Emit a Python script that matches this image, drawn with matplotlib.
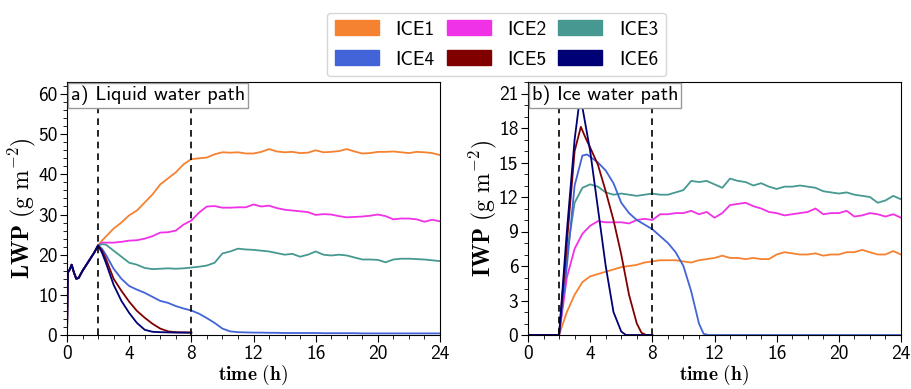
import matplotlib
matplotlib.use("Agg")
import matplotlib.pyplot as plt
import matplotlib.patches as mpatches
from matplotlib.ticker import MultipleLocator

plt.rcParams['font.family'] = ['cmss10', 'DejaVu Sans']
plt.rcParams['mathtext.fontset'] = 'cm'
plt.rcParams['axes.unicode_minus'] = False

names = ['ICE1', 'ICE2', 'ICE3', 'ICE4', 'ICE5', 'ICE6']
colors = ['#F58231', '#F032E6', '#469990', '#4363D8', '#800000', '#000075']

# ---- LWP (g m-2) ----
spin_t = [0, 0.05, 0.2, 0.3, 0.45, 0.6, 0.75, 1.0, 1.25, 1.5, 1.75]
spin_lwp = [0, 15.5, 16.5, 17.5, 15.5, 14.0, 14.2, 16.0, 17.5, 19.0, 20.5]

t_long = [2, 2.25, 2.5, 3, 3.5, 4, 4.5, 5, 5.5, 6, 6.5, 7, 7.5, 8, 8.5, 9, 9.5, 10,
          10.5, 11, 11.5, 12, 12.5, 13, 13.5, 14, 14.5, 15, 15.5, 16, 16.5, 17, 17.5,
          18, 18.5, 19, 19.5, 20, 20.5, 21, 21.5, 22, 22.5, 23, 23.5, 24]
t_short = [2, 2.25, 2.5, 3, 3.5, 4, 4.5, 5, 5.5, 6, 6.5, 7, 7.5, 8]

lwp_ice1 = [22.3, 23.5, 24.5, 26.5, 28.0, 29.8, 31.0, 33.0, 35.0, 37.5, 39.0, 40.5, 42.5, 43.8,
            44.0, 44.2, 45.0, 45.5, 45.4, 45.5, 45.2, 45.2, 45.6, 46.3, 45.7, 45.5, 45.6, 45.3,
            45.4, 46.0, 45.5, 45.6, 45.8, 46.3, 45.7, 45.2, 45.3, 45.6, 45.6, 45.7, 45.5, 45.3,
            45.6, 45.5, 45.3, 44.8]
lwp_ice2 = [22.3, 23.0, 23.0, 23.0, 23.2, 23.5, 23.6, 24.0, 24.6, 25.5, 25.6, 26.0, 27.5, 28.5,
            30.5, 32.0, 32.1, 31.7, 31.7, 31.8, 31.8, 32.5, 32.0, 32.2, 31.6, 31.2, 31.0, 30.8,
            30.6, 29.9, 30.1, 30.0, 29.6, 29.3, 29.4, 29.5, 29.7, 30.0, 29.6, 28.8, 29.0, 29.0,
            28.8, 28.2, 28.7, 28.3]
lwp_ice3 = [22.3, 22.6, 22.5, 21.0, 19.5, 18.0, 17.5, 16.7, 16.4, 16.5, 16.6, 16.5, 16.6, 16.8,
            17.0, 17.3, 18.0, 20.3, 20.8, 21.5, 21.3, 21.2, 21.0, 20.8, 20.4, 20.0, 20.2, 19.5,
            20.0, 20.8, 20.0, 19.8, 20.0, 19.8, 19.3, 18.8, 18.8, 18.7, 18.1, 18.8, 19.0, 19.0,
            18.9, 18.8, 18.6, 18.4]
lwp_ice4 = [22.3, 21.5, 20.0, 16.5, 14.0, 12.2, 11.3, 10.5, 9.5, 8.5, 8.0, 7.2, 6.6, 6.1,
            5.3, 4.2, 3.0, 1.6, 0.9, 0.7, 0.65, 0.6, 0.6, 0.55, 0.55, 0.5, 0.5, 0.5,
            0.5, 0.5, 0.45, 0.45, 0.45, 0.45, 0.45, 0.4, 0.4, 0.4, 0.4, 0.4, 0.4, 0.4,
            0.4, 0.4, 0.4, 0.4]
lwp_ice5 = [22.3, 21.0, 19.0, 14.0, 11.0, 8.3, 6.0, 4.3, 2.8, 1.6, 0.9, 0.7, 0.65, 0.6]
lwp_ice6 = [22.3, 20.5, 18.0, 12.5, 8.5, 5.5, 3.0, 1.3, 0.8, 0.7, 0.65, 0.6, 0.6, 0.6]

# ---- IWP (g m-2) ----
iwp_ice1_t = [0, 2, 2.5, 3, 3.5, 4, 4.5, 5, 5.5, 6, 6.5, 7, 7.5, 8, 8.5, 9, 9.5, 10, 10.5, 11,
              11.5, 12, 12.5, 13, 13.5, 14, 14.5, 15, 15.5, 16, 16.5, 17, 17.5, 18, 18.5, 19,
              19.5, 20, 20.5, 21, 21.5, 22, 22.5, 23, 23.5, 24]
iwp_ice1 = [0, 0, 2.0, 3.5, 4.6, 5.1, 5.3, 5.5, 5.7, 5.9, 6.0, 6.1, 6.3, 6.4, 6.5, 6.5, 6.5, 6.4,
            6.3, 6.5, 6.6, 6.7, 6.9, 6.7, 6.7, 6.6, 6.7, 6.6, 6.6, 7.0, 7.2, 7.1, 7.0, 7.0, 7.1,
            6.9, 7.0, 7.0, 7.2, 7.2, 7.4, 7.2, 7.0, 7.0, 7.3, 7.0]
iwp_ice2 = [0, 0, 5.0, 7.5, 8.8, 9.5, 9.9, 9.8, 9.8, 9.8, 9.7, 10.0, 10.1, 10.0, 10.5, 10.5,
            10.6, 10.6, 10.8, 10.5, 10.7, 10.2, 10.6, 11.3, 11.4, 11.5, 11.2, 11.0, 10.7, 10.6,
            10.4, 10.5, 10.6, 10.7, 11.0, 10.5, 10.6, 10.6, 10.8, 10.3, 10.4, 10.6, 10.5, 10.3,
            10.5, 10.2]
iwp_ice3 = [0, 0, 7.0, 11.5, 12.8, 13.1, 12.9, 12.4, 12.2, 12.3, 12.2, 12.1, 12.2, 12.3, 12.2,
            12.2, 12.4, 12.6, 13.4, 13.3, 13.4, 13.1, 12.8, 13.6, 13.4, 13.3, 13.0, 13.2, 12.9,
            12.7, 12.9, 12.9, 13.0, 12.9, 12.8, 12.5, 12.4, 12.3, 12.4, 12.2, 12.1, 12.0, 11.5,
            11.7, 12.1, 11.8]
iwp_ice4_t = [0, 2, 2.5, 3, 3.5, 3.8, 4, 4.5, 5, 5.5, 6, 6.5, 7, 7.5, 8, 8.5, 9, 9.5, 10,
              10.5, 11, 11.3, 11.6, 24]
iwp_ice4 = [0, 0, 6.0, 13.0, 15.6, 15.7, 15.5, 15.0, 14.3, 13.2, 11.5, 10.6, 10.0, 9.6, 9.2,
            8.6, 8.0, 7.2, 6.0, 3.8, 1.0, 0.1, 0, 0]
iwp_ice5_t = [0, 2, 2.5, 3, 3.4, 3.75, 4, 4.5, 5, 5.5, 6, 6.5, 7, 7.3, 7.6, 8]
iwp_ice5 = [0, 0, 8.0, 16.0, 18.1, 17.0, 16.3, 14.8, 12.5, 10.0, 7.0, 3.5, 1.0, 0.2, 0, 0]
iwp_ice6_t = [0, 2, 2.5, 3, 3.3, 3.5, 4, 4.5, 5, 5.5, 6, 6.3, 8]
iwp_ice6 = [0, 0, 9.0, 17.0, 20.2, 19.8, 16.0, 11.0, 6.0, 2.0, 0.3, 0, 0]

lwp_series = [(t_long, lwp_ice1), (t_long, lwp_ice2), (t_long, lwp_ice3),
              (t_long, lwp_ice4), (t_short, lwp_ice5), (t_short, lwp_ice6)]
iwp_series = [(iwp_ice1_t, iwp_ice1), (iwp_ice1_t, iwp_ice2), (iwp_ice1_t, iwp_ice3),
              (iwp_ice4_t, iwp_ice4), (iwp_ice5_t, iwp_ice5), (iwp_ice6_t, iwp_ice6)]

fig = plt.figure(figsize=(9.12, 3.89), dpi=100)
ax1 = fig.add_axes([67/912, 1-335/389, 373/912, 253/389])
ax2 = fig.add_axes([528/912, 1-335/389, 373/912, 253/389])

lw = 1.3
for (t, v), c in zip(lwp_series, colors):
    ax1.plot(spin_t + t, spin_lwp + v, color=c, lw=lw)
for (t, v), c in zip(iwp_series, colors):
    ax2.plot(t, v, color=c, lw=lw)

for ax, lab, ylab, ymax, ymaj, ymin in [
        (ax1, 'a) Liquid water path', r'$\mathbf{LWP}\ (\mathrm{g\ m^{-2}})$', 63, 10, 2),
        (ax2, 'b) Ice water path', r'$\mathbf{IWP}\ (\mathrm{g\ m^{-2}})$', 22, 3, 1)]:
    ax.axvline(2, color='black', ls='--', lw=1.2, dashes=(4, 3))
    ax.axvline(8, color='black', ls='--', lw=1.2, dashes=(4, 3))
    ax.set_xlim(0, 24)
    ax.set_ylim(0, ymax)
    ax.xaxis.set_major_locator(MultipleLocator(4))
    ax.xaxis.set_minor_locator(MultipleLocator(1))
    ax.yaxis.set_major_locator(MultipleLocator(ymaj))
    ax.yaxis.set_minor_locator(MultipleLocator(ymin))
    ax.tick_params(axis='both', which='major', labelsize=14, length=5, pad=2)
    ax.tick_params(axis='both', which='minor', length=3)
    ax.set_xlabel(r'$\mathbf{time}\ (\mathbf{h})$', fontsize=14, labelpad=0)
    ax.set_ylabel(ylab, fontsize=17, labelpad=0)
    ax.text(0.01, 0.985, lab, transform=ax.transAxes, ha='left', va='top', fontsize=14.5,
            bbox=dict(boxstyle='square,pad=0.15', fc='white', ec='#999999', lw=1.0), zorder=5)

handles = [mpatches.Patch(color=c, label=n) for c, n in zip(colors, names)]
order = [0, 3, 1, 4, 2, 5]
fig.legend(handles=[handles[i] for i in order], loc='center',
           bbox_to_anchor=(496.5/912, 1-44.5/389), ncol=3,
           fontsize=14, handlelength=2.27, handleheight=0.82, handletextpad=0.85,
           columnspacing=0.6, labelspacing=0.6, borderpad=0.4)

fig.savefig('out.png', dpi=100)
